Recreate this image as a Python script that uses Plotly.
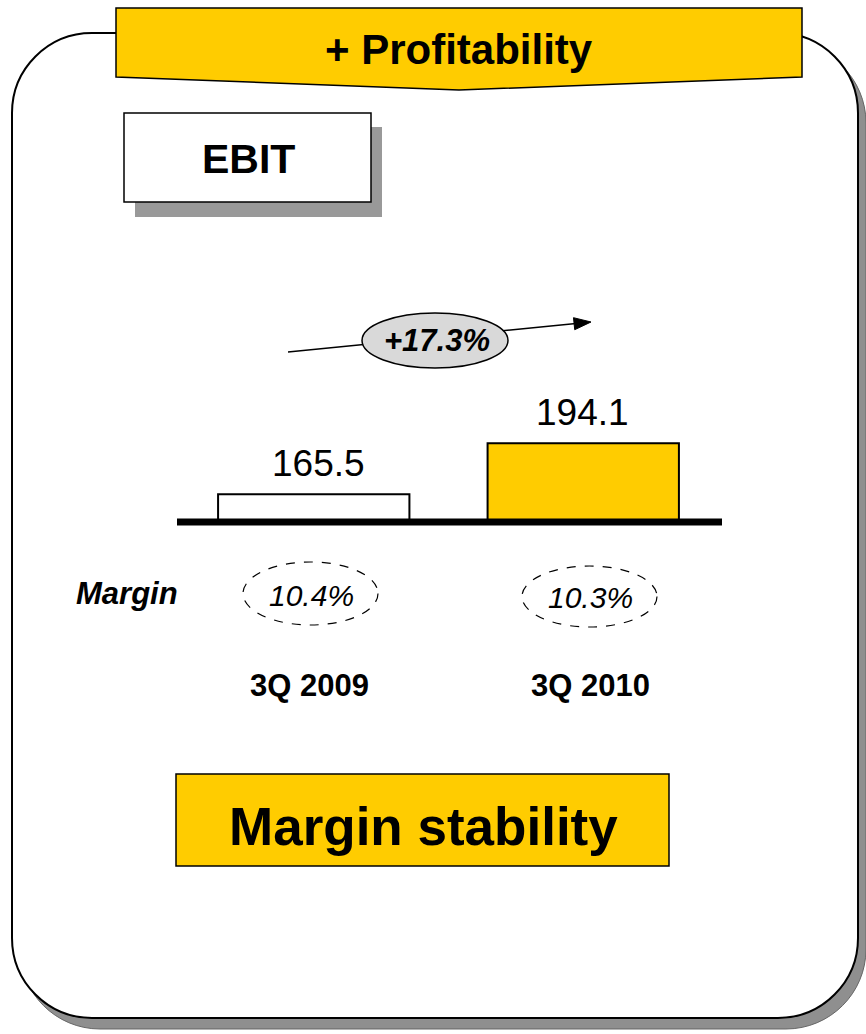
import plotly.graph_objects as go

W, H = 866, 1034

# ---- data ----
categories = ["3Q 2009", "3Q 2010"]
ebit_values = [165.5, 194.1]
value_labels = ["165.5", "194.1"]
margins = ["10.4%", "10.3%"]
growth_label = "+17.3%"
bar_colors = ["#FFFFFF", "#FFCC00"]

FONT = "Liberation Sans, Arial, sans-serif"
YELLOW = "#FFCC00"


def px(x):
    return x / W


def py(y):
    return 1 - y / H


def P(x, y):
    return f"{px(x):.5f},{py(y):.5f}"


def rounded_rect(x0, y0, x1, y1, r):
    k = 0.5523 * r
    return (
        f"M {P(x0 + r, y0)} L {P(x1 - r, y0)} "
        f"C {P(x1 - r + k, y0)} {P(x1, y0 + r - k)} {P(x1, y0 + r)} "
        f"L {P(x1, y1 - r)} "
        f"C {P(x1, y1 - r + k)} {P(x1 - r + k, y1)} {P(x1 - r, y1)} "
        f"L {P(x0 + r, y1)} "
        f"C {P(x0 + r - k, y1)} {P(x0, y1 - r + k)} {P(x0, y1 - r)} "
        f"L {P(x0, y0 + r)} "
        f"C {P(x0, y0 + r - k)} {P(x0 + r - k, y0)} {P(x0 + r, y0)} Z"
    )


fig = go.Figure()

fig.add_trace(go.Bar(
    x=categories, y=ebit_values,
    width=0.71,
    marker=dict(color=bar_colors, line=dict(color="black", width=2)),
    hoverinfo="skip",
))

shapes = []
# main rounded frame shadow + frame
shapes.append(dict(type="path", xref="paper", yref="paper", layer="below",
                   path=rounded_rect(20, 43, 866, 1029, 80),
                   fillcolor="#8f8f8f", line=dict(color="#666666", width=1)))
shapes.append(dict(type="path", xref="paper", yref="paper", layer="below",
                   path=rounded_rect(12, 33, 858, 1018, 80),
                   fillcolor="white", line=dict(color="black", width=2)))
# header banner
shapes.append(dict(type="path", xref="paper", yref="paper", layer="above",
                   path=f"M {P(116, 8)} L {P(802, 8)} L {P(802, 77)} L {P(459, 90)} L {P(116, 77)} Z",
                   fillcolor=YELLOW, line=dict(color="black", width=1.5)))
# EBIT box shadow + box
shapes.append(dict(type="rect", xref="paper", yref="paper", layer="above",
                   x0=px(135), x1=px(382), y0=py(217), y1=py(127),
                   fillcolor="#999999", line=dict(width=0)))
shapes.append(dict(type="rect", xref="paper", yref="paper", layer="above",
                   x0=px(124), x1=px(371), y0=py(202), y1=py(113),
                   fillcolor="white", line=dict(color="black", width=1.5)))
# growth arrow line
shapes.append(dict(type="line", xref="paper", yref="paper", layer="above",
                   x0=px(288), y0=py(352), x1=px(576), y1=py(323.5),
                   line=dict(color="black", width=1.5)))
shapes.append(dict(type="path", xref="paper", yref="paper", layer="above",
                   path=f"M {P(591, 322)} L {P(574.7, 329.7)} L {P(573.5, 317.7)} Z",
                   fillcolor="black", line=dict(color="black", width=1)))
# growth ellipse
shapes.append(dict(type="circle", xref="paper", yref="paper", layer="above",
                   x0=px(362), x1=px(508), y0=py(368), y1=py(313),
                   fillcolor="#D9D9D9", line=dict(color="black", width=1.5)))
# baseline
shapes.append(dict(type="line", xref="paper", yref="paper", layer="above",
                   x0=px(177), x1=px(722), y0=py(522), y1=py(522),
                   line=dict(color="black", width=7)))
# dashed margin ellipses
shapes.append(dict(type="circle", xref="paper", yref="paper", layer="above",
                   x0=px(243), x1=px(378), y0=py(625), y1=py(562),
                   line=dict(color="black", width=1.2, dash="dash")))
shapes.append(dict(type="circle", xref="paper", yref="paper", layer="above",
                   x0=px(522), x1=px(657), y0=py(627), y1=py(566),
                   line=dict(color="black", width=1.2, dash="dash")))
# Margin stability box
shapes.append(dict(type="rect", xref="paper", yref="paper", layer="above",
                   x0=px(176), x1=px(669), y0=py(866), y1=py(774),
                   fillcolor=YELLOW, line=dict(color="black", width=1.5)))


def note(x, y, text, size, **kw):
    d = dict(x=px(x), y=py(y), xref="paper", yref="paper", showarrow=False,
             xanchor="center", yanchor="middle", text=text,
             font=dict(family=FONT, size=size, color="black"))
    d.update(kw)
    return d


ann = []
ann.append(note(459, 50, "<b>+ Profitability</b>", 42))
ann.append(note(248, 159, "<b>EBIT</b>", 41))
ann.append(note(437, 340, f"<b><i>{growth_label}</i></b>", 31))
label_xshift = [5, -1]
for cat, val, lab, xs in zip(categories, ebit_values, value_labels, label_xshift):
    ann.append(dict(x=cat, y=val, xref="x", yref="y", showarrow=False,
                    xanchor="center", yanchor="bottom", xshift=xs,
                    yshift=8, text=lab, font=dict(family=FONT, size=37, color="black")))
ann.append(note(127, 593, "<b><i>Margin</i></b>", 31))
margin_pos = [(311, 595), (590, 597)]
for (mx, my), m in zip(margin_pos, margins):
    ann.append(note(mx, my, f"<i>{m}</i>", 30))
cat_pos = [309, 590]
for cx, cat in zip(cat_pos, categories):
    ann.append(note(cx, 685, f"<b>{cat}</b>", 31))
ann.append(note(423, 826, "<b>Margin stability</b>", 53))

base_val = 150.0
px_per_unit = 51 / (194.1 - 165.5)
y_top_px = 400
y_top_val = base_val + (522 - y_top_px) / px_per_unit

fig.update_layout(
    width=W, height=H,
    margin=dict(l=0, r=0, t=0, b=0),
    paper_bgcolor="white", plot_bgcolor="rgba(0,0,0,0)",
    showlegend=False,
    shapes=shapes,
    annotations=ann,
    xaxis=dict(domain=[px(179), px(718)], range=[-0.5, 1.5], visible=False, fixedrange=True),
    yaxis=dict(domain=[py(522), py(y_top_px)], range=[base_val, y_top_val], visible=False, fixedrange=True),
)

fig.write_html("out.html", config={"displayModeBar": False},
               post_script="document.body.style.margin='0';")
